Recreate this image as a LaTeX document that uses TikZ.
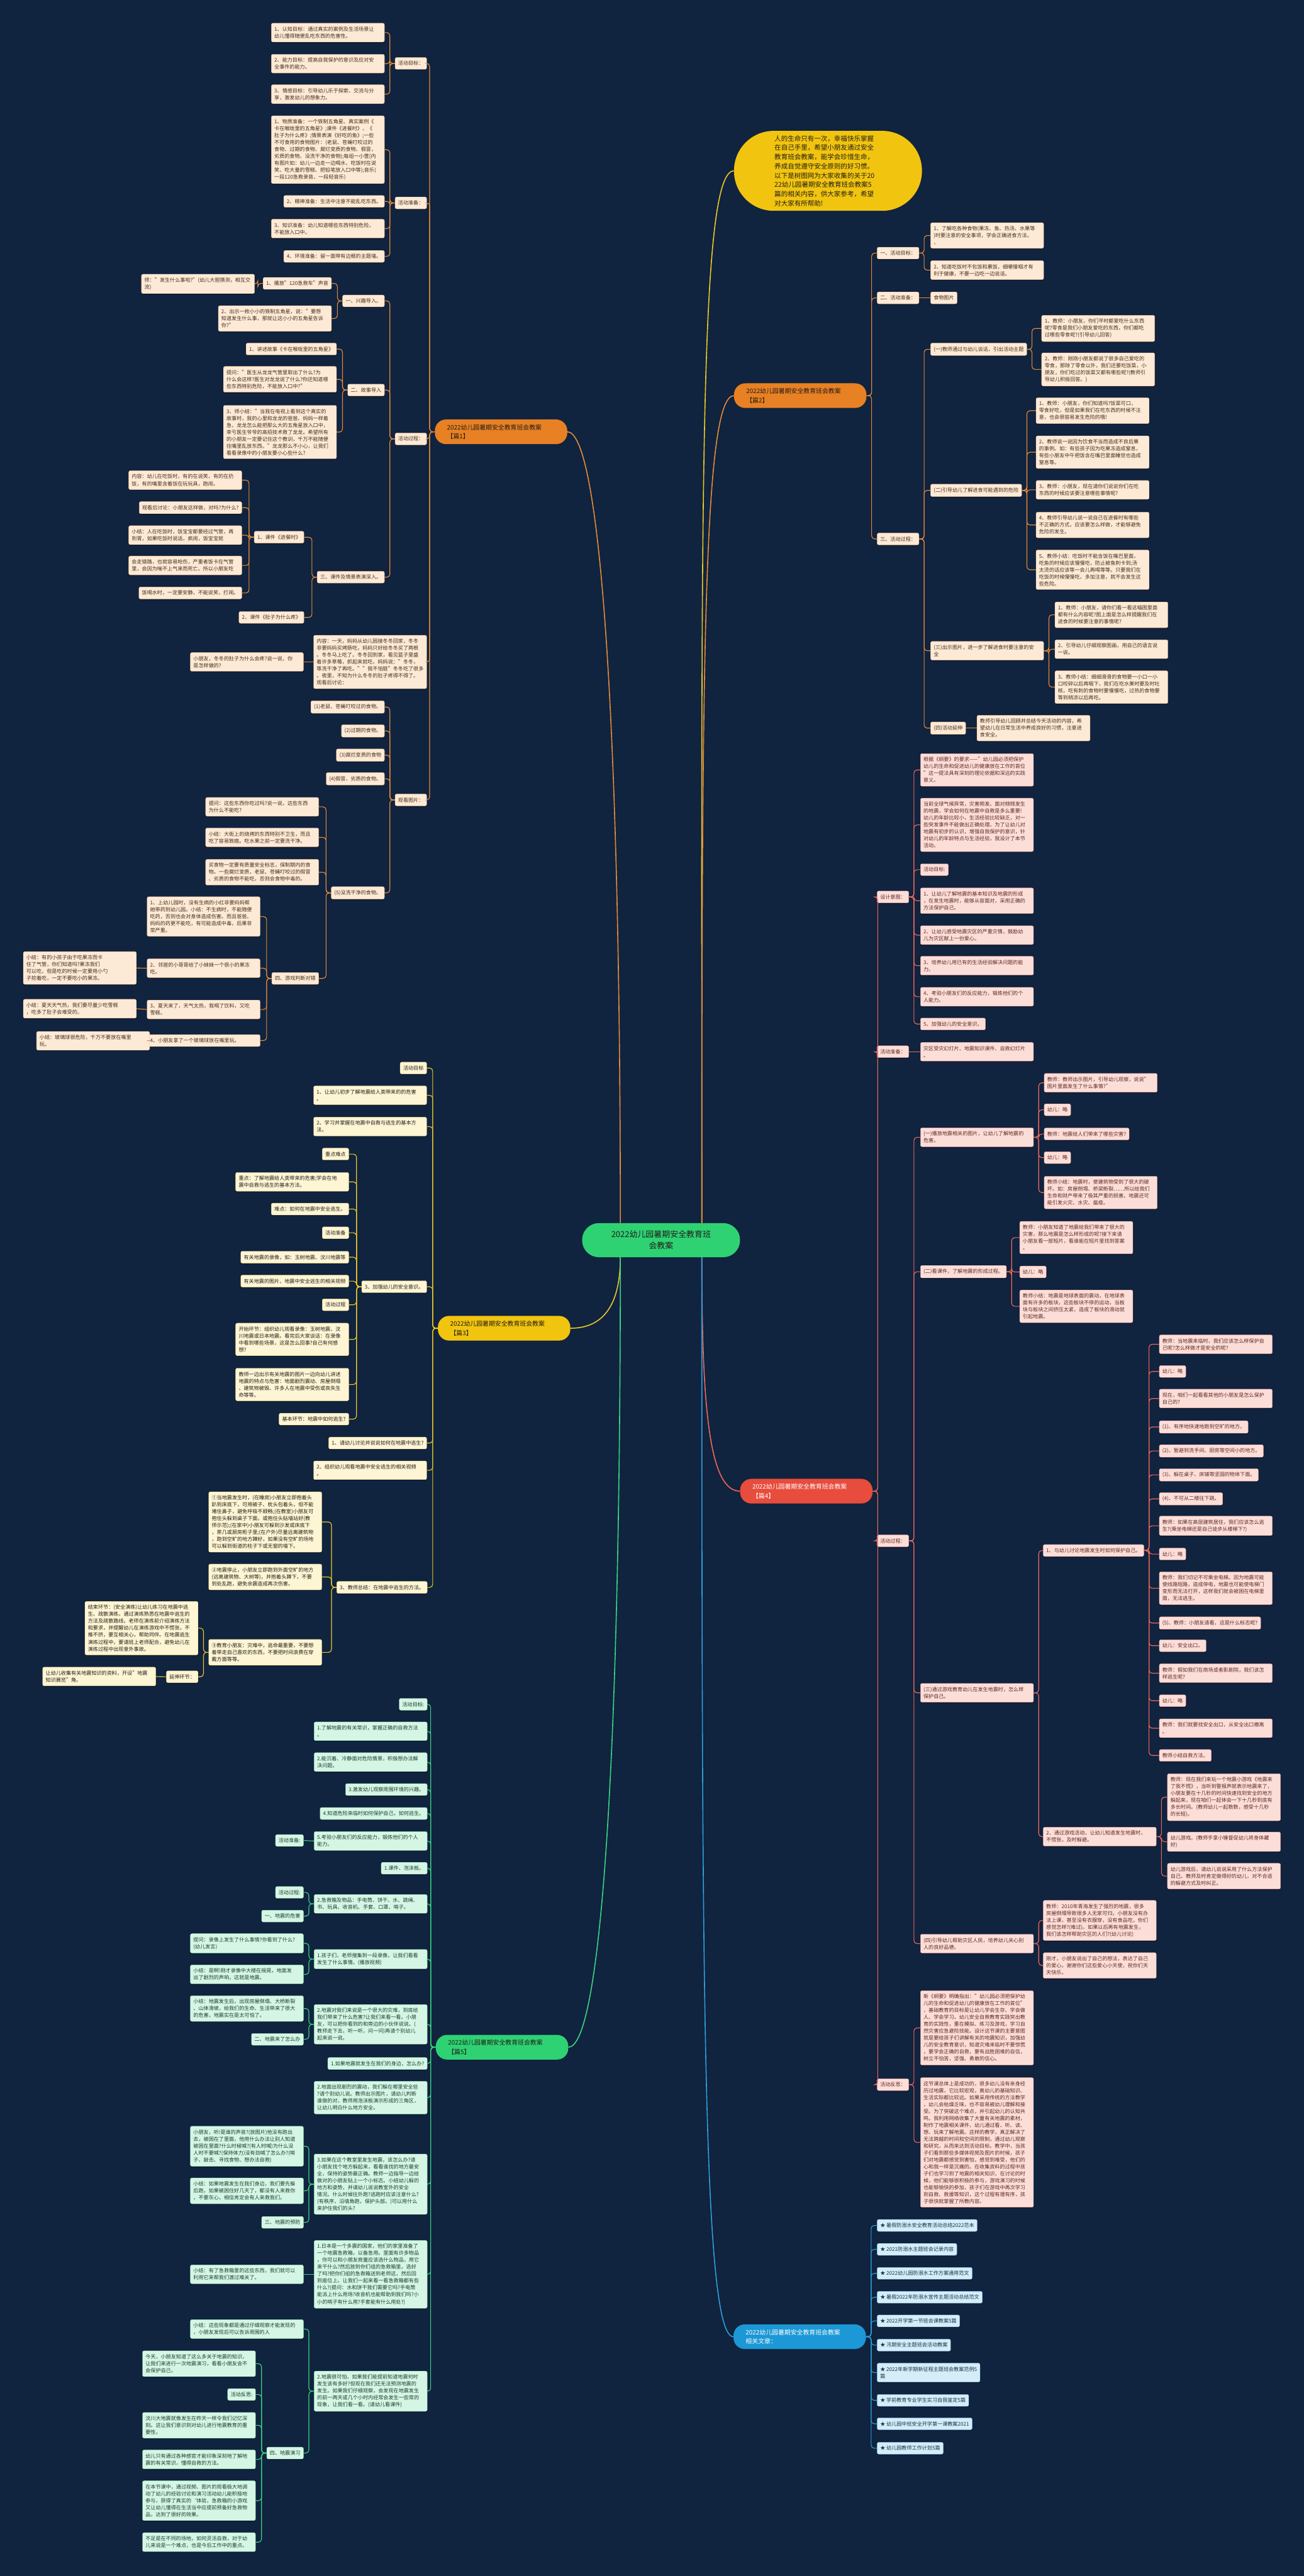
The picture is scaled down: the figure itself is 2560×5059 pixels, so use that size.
\documentclass[tikz,border=0pt]{standalone}
\usepackage{fontspec}
\setmainfont{Noto Sans CJK SC}
\usepackage{tikz}
\usetikzlibrary{calc,shadows}

\definecolor{bgnavy}{RGB}{16,35,63}
\definecolor{rootgreen}{RGB}{46,210,115}
\definecolor{sunyellow}{RGB}{241,196,15}
\definecolor{carrot}{RGB}{232,128,36}
\definecolor{tomato}{RGB}{231,76,60}
\definecolor{skyblue}{RGB}{27,152,213}
\definecolor{peach}{RGB}{252,234,214}
\definecolor{cream}{RGB}{253,245,212}
\definecolor{blush}{RGB}{252,222,217}
\definecolor{mint}{RGB}{214,246,229}
\definecolor{ice}{RGB}{212,237,249}
\definecolor{orangeline}{RGB}{228,138,56}
\definecolor{yellowline}{RGB}{233,200,40}
\definecolor{redline}{RGB}{236,104,90}
\definecolor{greenline}{RGB}{58,212,128}
\definecolor{blueline}{RGB}{45,158,216}
\definecolor{inkbrown}{RGB}{70,45,25}
\definecolor{inkdark}{RGB}{35,30,25}
\definecolor{inkred}{RGB}{95,40,32}
\definecolor{inkgreen}{RGB}{25,60,45}
\definecolor{inkblue}{RGB}{25,50,70}

\newcommand\leaffont{\fontsize{10}{13.6}\selectfont}
\newcommand\topicfont{\fontsize{12.2}{18}\selectfont}
\newcommand\introfont{\fontsize{13}{18.2}\selectfont}
\newcommand\rootfont{\fontsize{16}{22}\selectfont}

\tikzset{
	leaf/.style={rounded corners=3pt, align=left, inner xsep=6pt, inner ysep=7pt, font=\leaffont, line width=0.5pt,
		drop shadow={shadow xshift=0pt, shadow yshift=-1.6pt, fill=black, opacity=0.35}},
	wide/.style={text width=210pt},
	oleaf/.style={leaf, fill=peach, draw=orangeline!60, text=inkbrown},
	yleaf/.style={leaf, fill=cream, draw=yellowline!60, text=inkdark},
	rleaf/.style={leaf, fill=blush, draw=redline!60, text=inkred},
	gleaf/.style={leaf, fill=mint, draw=greenline!60, text=inkgreen},
	bleaf/.style={leaf, fill=ice, draw=blueline!60, text=inkblue},
	topic/.style={rounded corners=22pt, align=left, inner xsep=24pt, inner ysep=9.5pt, font=\topicfont, text width=212pt},
	olink/.style={draw=orangeline, line width=1.4pt, rounded corners=6pt},
	ylink/.style={draw=yellowline, line width=1.4pt, rounded corners=6pt},
	rlink/.style={draw=redline, line width=1.4pt, rounded corners=6pt},
	glink/.style={draw=greenline, line width=1.4pt, rounded corners=6pt},
	blink/.style={draw=blueline, line width=1.4pt, rounded corners=6pt},
	mainlink/.style={line width=2pt, rounded corners=0pt}
}

\begin{document}
\begin{tikzpicture}[x=1pt, y=-1pt]

	\fill[bgnavy] (0,0) rectangle (2560,5059);
	\useasboundingbox (0,0) rectangle (2560,5059);

	%% -- Center
	\node[fill=rootgreen, rounded corners=33pt, minimum width=310pt, minimum height=67pt,
	align=center, font=\rootfont, text=inkdark] (root) at (1298,2435.5)
	{2022幼儿园暑期安全教育班\\会教案};

	%% -- Intro
	\node[fill=sunyellow, rounded corners=78pt, minimum width=369pt, minimum height=157pt,
	text width=210pt, align=left, font=\introfont, text=inkdark, anchor=west] (intro) at (1441,335.5)
	{人的生命只有一次，幸福快乐掌握\\在自己手里，希望小朋友通过安全\\教育班会教案，能学会珍惜生命，\\养成自觉遵守安全原则的好习惯。\\以下是树图网为大家收集的关于20\\22幼儿园暑期安全教育班会教案5\\篇的相关内容，供大家参考，希望\\对大家有所帮助!};

	%% -- Topics
	\node[topic, fill=carrot, text=inkdark, anchor=east] (b1) at (1114,848) {2022幼儿园暑期安全教育班会教案\\【篇1】};
	\node[topic, fill=carrot, text=inkdark, anchor=west] (b2) at (1441,777) {2022幼儿园暑期安全教育班会教案\\【篇2】};
	\node[topic, fill=sunyellow, text=inkdark, anchor=east] (b3) at (1120,2608.5) {2022幼儿园暑期安全教育班会教案\\【篇3】};
	\node[topic, fill=tomato, text=white, anchor=west] (b4) at (1453,2928.5) {2022幼儿园暑期安全教育班会教案\\【篇4】};
	\node[topic, fill=rootgreen, text=inkdark, anchor=east] (b5) at (1116,4020.5) {2022幼儿园暑期安全教育班会教案\\【篇5】};
	\node[topic, fill=skyblue, text=white, anchor=west] (b6) at (1440,4589) {2022幼儿园暑期安全教育班会教案\\相关文章：};

	\draw[ylink, mainlink] ([xshift=80pt]root.north) .. controls +(0,-1400) and +(-70,0) .. (intro.west);
	\draw[olink, mainlink] ([xshift=80pt]root.north) .. controls +(0,-1100) and +(-60,0) .. (b2.west);
	\draw[olink, mainlink] ([xshift=-80pt]root.north) .. controls +(0,-1050) and +(60,0) .. (b1.east);
	\draw[ylink, mainlink] ([xshift=-80pt]root.south) .. controls +(0,100) and +(60,0) .. (b3.east);
	\draw[glink, mainlink] ([xshift=-80pt]root.south) .. controls +(0,1050) and +(60,0) .. (b5.east);
	\draw[rlink, mainlink] ([xshift=80pt]root.south) .. controls +(0,300) and +(-60,0) .. (b4.west);
	\draw[blink, mainlink] ([xshift=80pt]root.south) .. controls +(0,1450) and +(-60,0) .. (b6.west);

	%% -- 篇1
	\node[oleaf, anchor=east] (b1a) at (838,124.5) {活动目标：};
	\node[oleaf, wide, anchor=east] (b1a1) at (755,64) {1、认知目标：通过真实的案例及生活场景让\\幼儿懂得随便乱吃东西的危害性。};
	\node[oleaf, wide, anchor=east] (b1a2) at (755,125) {2、能力目标：提高自我保护的意识及应对安\\全事件的能力。};
	\node[oleaf, wide, anchor=east] (b1a3) at (755,185) {3、情感目标：引导幼儿乐于探索、交流与分\\享，激发幼儿的想象力。};
	\node[oleaf, anchor=east] (b1b) at (838,398.5) {活动准备：};
	\node[oleaf, wide, anchor=east] (b1b1) at (755,294) {1、物质准备：一个铁制五角星、真实案例《\\卡在喉咙里的五角星》;课件《进餐时》、《\\肚子为什么疼》;情景表演《好吃的鱼》;一些\\不可食用的食物图片：(老鼠、苍蝇叮咬过的\\食物、过期的食物、腐烂变质的食物、假冒，\\劣质的食物、没洗干净的食物);每组一小筐(内\\有图片如：幼儿一边走一边喝水、吃饭时在说\\笑、吃大量的雪糕、把铅笔放入口中等);音乐(\\一段120急救录音、一段轻音乐)};
	\node[oleaf, anchor=east] (b1b2) at (755,395.5) {2、精神准备：生活中注意不能乱吃东西。};
	\node[oleaf, wide, anchor=east] (b1b3) at (755,449) {3、知识准备：幼儿知道哪些东西特别危险，\\不能放入口中。};
	\node[oleaf, anchor=east] (b1b4) at (755,503.5) {4、环境准备：留一面带有边框的主题墙。};
	\node[oleaf, anchor=east] (b1c) at (838,862) {活动过程：};
	\node[oleaf, anchor=east] (b1c1) at (755,591) {一、兴趣导入。};
	\node[oleaf, anchor=east] (b1c1a) at (651,556.5) {1、播放"120急救车"声音};
	\node[oleaf, wide, anchor=east] (b1c1a1) at (500,557.5) {师："发生什么事啦?"(幼儿大胆猜测，相互交\\流)};
	\node[oleaf, wide, anchor=east] (b1c1b) at (651,625.5) {2、出示一枚小小的铁制五角星，说："要想\\知道发生什么事，那就让这小小的五角星告诉\\你?"};
	\node[oleaf, anchor=east] (b1c2) at (755,766) {二、故事导入};
	\node[oleaf, anchor=east] (b1c2a) at (661,685.5) {1、讲述故事《卡在喉咙里的五角星》};
	\node[oleaf, wide, anchor=east] (b1c2b) at (661,745) {提问："医生从龙龙气管里取出了什么?为\\什么会这样?医生对龙龙说了什么?你还知道哪\\些东西特别危险，不能放入口中?"};
	\node[oleaf, wide, anchor=east] (b1c2c) at (661,848.5) {3、师小结："当我在电视上看到这个真实的\\故事时，我的心里和龙龙的爸爸、妈妈一样着\\急，龙龙怎么能把那么大的五角星放入口中，\\幸亏医生爷爷的高招技术救了龙龙。希望所有\\的小朋友一定要记住这个教训，千万不能随便\\往嘴里乱放东西。"龙龙那么不小心，让我们\\看看录像中的小朋友要小心些什么?};
	\node[oleaf, anchor=east] (b1c3) at (755,1133.5) {三、课件及情景表演深入。};
	\node[oleaf, anchor=east] (b1c3a) at (597,1055) {1、课件《进餐时》};
	\node[oleaf, wide, anchor=east] (b1c3a1) at (475,943) {内容：幼儿在吃饭时，有的在说笑，有的在扔\\饭，有的嘴里含着饭在玩玩具，跑闹。};
	\node[oleaf, anchor=east] (b1c3a2) at (475,997) {观看后讨论：小朋友这样做，对吗?为什么?};
	\node[oleaf, wide, anchor=east] (b1c3a3) at (475,1051) {小结：人在吃饭时，饭宝宝都要经过气管，再\\到胃，如果吃饭时说话，疯闹，饭宝宝就};
	\node[oleaf, wide, anchor=east] (b1c3a4) at (475,1110.5) {会走错路，也就容易呛伤，严重者饭卡在气管\\里，会因为喘不上气来而死亡。所以小朋友吃};
	\node[oleaf, anchor=east] (b1c3a5) at (475,1164.5) {饭喝水时，一定要安静，不能说笑，打闹。};
	\node[oleaf, anchor=east] (b1c3b) at (597,1212.5) {2、课件《肚子为什么疼》};
	\node[oleaf, wide, anchor=east] (b1d) at (838,1300) {内容：一天，妈妈从幼儿园接冬冬回家，冬冬\\非要妈妈买烤肠吃，妈妈只好给冬冬买了两根\\。冬冬马上吃了。冬冬回到家，看见篮子里盛\\着许多草莓，抓起来就吃，妈妈说："冬冬，\\等洗干净了再吃。""我不怕脏"冬冬吃了很多\\。夜里，不知为什么冬冬的肚子疼得不得了。\\观看后讨论：};
	\node[oleaf, wide, anchor=east] (b1d1) at (596,1300) {小朋友，冬冬的肚子为什么会疼?说一说，你\\是怎样做的?};
	\node[oleaf, anchor=east] (b1e) at (838,1571) {观看图片：};
	\node[oleaf, anchor=east] (b1e1) at (755,1388.5) {(1)老鼠、苍蝇叮咬过的食物。};
	\node[oleaf, anchor=east] (b1e2) at (755,1435.5) {(2)过期的食物。};
	\node[oleaf, anchor=east] (b1e3) at (755,1483) {(3)腐烂变质的食物};
	\node[oleaf, anchor=east] (b1e4) at (755,1529.5) {(4)假冒、劣质的食物。};
	\node[oleaf, anchor=east] (b1e5) at (755,1753.5) {(5)没洗干净的食物。};
	\node[oleaf, wide, anchor=east] (b1e5a) at (626,1584.5) {提问：这些东西你吃过吗?说一说，这些东西\\为什么不能吃?};
	\node[oleaf, wide, anchor=east] (b1e5b) at (626,1644.5) {小结：大街上的烧烤的东西特别不卫生，而且\\吃了容易致癌。吃水果之前一定要洗干净。};
	\node[oleaf, wide, anchor=east] (b1e5c) at (626,1713) {买食物一定要有质量安全标志，保制期内的食\\物。一些腐烂变质，老鼠、苍蝇叮咬过的假冒\\、劣质的食物不能吃，否则会食物中毒的。};
	\node[oleaf, anchor=east] (b1e5d) at (626,1921.5) {四、游戏判断对错};
	\node[oleaf, wide, anchor=east] (b1e5d1) at (511,1800) {1、上幼儿园时，没有生病的小红非要妈妈帮\\她带药到幼儿园。小结：不生病时，不能随便\\吃药，否则也会对身体造成伤害。而且爸爸、\\妈妈的药更不能吃，有可能造成中毒，后果非\\常严重。};
	\node[oleaf, wide, anchor=east] (b1e5d2) at (511,1901.5) {2、邻居的小哥哥给了小妹妹一个很小的果冻\\吃。};
	\node[oleaf, wide, anchor=east] (b1e5d2a) at (268,1901) {小结：有的小孩子由于吃果冻而卡\\住了气管，你们知道吗?果冻我们\\可以吃，但是吃的时候一定要用小勺\\子挖着吃，一定不要吃小的果冻。};
	\node[oleaf, wide, anchor=east] (b1e5d3) at (511,1982.5) {3、夏天来了，天气太热，我喝了饮料，又吃\\雪糕。};
	\node[oleaf, wide, anchor=east] (b1e5d3a) at (268,1981) {小结：夏天天气热，我们要尽量少吃雪糕\\，吃多了肚子会难受的。};
	\node[oleaf, wide, anchor=east] (b1e5d4) at (511,2043.5) {4、小朋友拿了一个玻璃球放在嘴里玩。};
	\node[oleaf, wide, anchor=east] (b1e5d4a) at (294,2044) {小结：玻璃球很危险，千万不要放在嘴里\\玩。};

	\draw[olink] (b1.west) -- ++(-10,0) |- (b1a.east);
	\draw[olink] (b1.west) -- ++(-10,0) |- (b1b.east);
	\draw[olink] (b1.west) -- ++(-10,0) |- (b1c.east);
	\draw[olink] (b1.west) -- ++(-10,0) |- (b1d.east);
	\draw[olink] (b1.west) -- ++(-10,0) |- (b1e.east);
	\draw[olink] (b1a.west) -- ++(-10,0) |- (b1a1.east);
	\draw[olink] (b1a.west) -- ++(-10,0) |- (b1a2.east);
	\draw[olink] (b1a.west) -- ++(-10,0) |- (b1a3.east);
	\draw[olink] (b1b.west) -- ++(-10,0) |- (b1b1.east);
	\draw[olink] (b1b.west) -- ++(-10,0) |- (b1b2.east);
	\draw[olink] (b1b.west) -- ++(-10,0) |- (b1b3.east);
	\draw[olink] (b1b.west) -- ++(-10,0) |- (b1b4.east);
	\draw[olink] (b1c.west) -- ++(-10,0) |- (b1c1.east);
	\draw[olink] (b1c.west) -- ++(-10,0) |- (b1c2.east);
	\draw[olink] (b1c.west) -- ++(-10,0) |- (b1c3.east);
	\draw[olink] (b1c1.west) -- ++(-10,0) |- (b1c1a.east);
	\draw[olink] (b1c1.west) -- ++(-10,0) |- (b1c1b.east);
	\draw[olink] (b1c1a.west) -- ++(-10,0) |- (b1c1a1.east);
	\draw[olink] (b1c2.west) -- ++(-10,0) |- (b1c2a.east);
	\draw[olink] (b1c2.west) -- ++(-10,0) |- (b1c2b.east);
	\draw[olink] (b1c2.west) -- ++(-10,0) |- (b1c2c.east);
	\draw[olink] (b1c3.west) -- ++(-10,0) |- (b1c3a.east);
	\draw[olink] (b1c3.west) -- ++(-10,0) |- (b1c3b.east);
	\draw[olink] (b1c3a.west) -- ++(-10,0) |- (b1c3a1.east);
	\draw[olink] (b1c3a.west) -- ++(-10,0) |- (b1c3a2.east);
	\draw[olink] (b1c3a.west) -- ++(-10,0) |- (b1c3a3.east);
	\draw[olink] (b1c3a.west) -- ++(-10,0) |- (b1c3a4.east);
	\draw[olink] (b1c3a.west) -- ++(-10,0) |- (b1c3a5.east);
	\draw[olink] (b1d.west) -- (b1d1.east);
	\draw[olink] (b1e.west) -- ++(-10,0) |- (b1e1.east);
	\draw[olink] (b1e.west) -- ++(-10,0) |- (b1e2.east);
	\draw[olink] (b1e.west) -- ++(-10,0) |- (b1e3.east);
	\draw[olink] (b1e.west) -- ++(-10,0) |- (b1e4.east);
	\draw[olink] (b1e.west) -- ++(-10,0) |- (b1e5.east);
	\draw[olink] (b1e5.west) -- ++(-10,0) |- (b1e5a.east);
	\draw[olink] (b1e5.west) -- ++(-10,0) |- (b1e5b.east);
	\draw[olink] (b1e5.west) -- ++(-10,0) |- (b1e5c.east);
	\draw[olink] (b1e5.west) -- ++(-10,0) |- (b1e5d.east);
	\draw[olink] (b1e5d.west) -- ++(-10,0) |- (b1e5d1.east);
	\draw[olink] (b1e5d.west) -- ++(-10,0) |- (b1e5d2.east);
	\draw[olink] (b1e5d.west) -- ++(-10,0) |- (b1e5d3.east);
	\draw[olink] (b1e5d.west) -- ++(-10,0) |- (b1e5d4.east);
	\draw[olink] (b1e5d2.west) -- (b1e5d2a.east);
	\draw[olink] (b1e5d3.west) -- (b1e5d3a.east);
	\draw[olink] (b1e5d4.west) -- (b1e5d4a.east);

	%% -- 篇2
	\node[oleaf, anchor=west] (b2a) at (1722,497) {一、活动目标：};
	\node[oleaf, wide, anchor=west] (b2a1) at (1827,462.5) {1、了解吃各种食物(果冻、鱼、热汤、水果等\\)时要注意的安全事项，学会正确进食方法。\\、};
	\node[oleaf, wide, anchor=west] (b2a2) at (1827,530.5) {2、知道吃饭时不包饭和裹饭，细嚼慢咽才有\\利于健康，不要一边吃一边说话。};
	\node[oleaf, anchor=west] (b2b) at (1722,585) {二、活动准备：};
	\node[oleaf, anchor=west] (b2b1) at (1827,585) {食物图片};
	\node[oleaf, anchor=west] (b2c) at (1722,1058.5) {三、活动过程：};
	\node[oleaf, anchor=west] (b2c1) at (1827,686) {(一)教师通过与幼儿谈话，引出活动主题};
	\node[oleaf, wide, anchor=west] (b2c1a) at (2045,645) {1、教师：小朋友，你们平时都爱吃什么东西\\呢?零食是我们小朋友爱吃的东西，你们都吃\\过哪些零食呢?(引导幼儿回答)};
	\node[oleaf, wide, anchor=west] (b2c1b) at (2045,725.5) {2、教师：刚刚小朋友都说了很多自己爱吃的\\零食，那除了零食以外，我们还要吃饭菜，小\\朋友，你们吃过的饭菜又都有哪些呢?(教师引\\导幼儿积极回答。)};
	\node[oleaf, anchor=west] (b2c2) at (1827,963) {(二)引导幼儿了解进食可能遇到的危险};
	\node[oleaf, wide, anchor=west] (b2c2a) at (2034,806.5) {1、教师：小朋友，你们知道吗?饭菜可口，\\零食好吃，但是如果我们在吃东西的时候不注\\意，也会很容易发生危险的哦!};
	\node[oleaf, wide, anchor=west] (b2c2b) at (2034,888) {2、教师说一说因为饮食不当而造成不良后果\\的事例。如：有些孩子因为吃果冻造成窒息，\\有些小朋友中午把饭含在嘴巴里面睡觉也造成\\窒息等。};
	\node[oleaf, wide, anchor=west] (b2c2c) at (2034,962) {3、教师：小朋友，现在请你们说说你们在吃\\东西的时候应该要注意哪些事情呢?};
	\node[oleaf, wide, anchor=west] (b2c2d) at (2034,1031) {4、教师引导幼儿说一说自己在进餐时有哪些\\不正确的方式，应该要怎么样做，才能够避免\\危险的发生。};
	\node[oleaf, wide, anchor=west] (b2c2e) at (2034,1119) {5、教师小结：吃饭时不能含饭在嘴巴里面，\\吃鱼的时候应该慢慢吃，防止被鱼刺卡到;汤\\太烫的话应该等一会儿再喝等等。只要我们在\\吃饭的时候慢慢吃，多加注意，就不会发生这\\些危险。};
	\node[oleaf, wide, anchor=west] (b2c3) at (1827,1278) {(三)出示图片，进一步了解进食时要注意的安\\全};
	\node[oleaf, wide, anchor=west] (b2c3a) at (2071,1207.5) {1、教师：小朋友，请你们看一看这幅图里面\\都有什么内容呢?图上面是怎么样提醒我们在\\进食的时候要注意的事情呢?};
	\node[oleaf, wide, anchor=west] (b2c3b) at (2071,1275) {2、引导幼儿仔细观察图画，用自己的语言说\\一说。};
	\node[oleaf, wide, anchor=west] (b2c3c) at (2071,1349.5) {3、教师小结：细细滑滑的食物要一小口一小\\口咬碎以后再咽下，我们在吃水果时要及时吐\\核，吃有刺的食物时要慢慢吃，过热的食物要\\等到稍凉以后再吃。};
	\node[oleaf, anchor=west] (b2c4) at (1827,1430) {(四)活动延伸};
	\node[oleaf, wide, anchor=west] (b2c4a) at (1918,1430) {教师引导幼儿回顾并总结今天活动的内容，希\\望幼儿在日常生活中养成良好的习惯，注意进\\食安全。};

	\draw[olink] (b2.east) -- ++(10,0) |- (b2a.west);
	\draw[olink] (b2.east) -- ++(10,0) |- (b2b.west);
	\draw[olink] (b2.east) -- ++(10,0) |- (b2c.west);
	\draw[olink] (b2a.east) -- ++(10,0) |- (b2a1.west);
	\draw[olink] (b2a.east) -- ++(10,0) |- (b2a2.west);
	\draw[olink] (b2b.east) -- (b2b1.west);
	\draw[olink] (b2c.east) -- ++(10,0) |- (b2c1.west);
	\draw[olink] (b2c.east) -- ++(10,0) |- (b2c2.west);
	\draw[olink] (b2c.east) -- ++(10,0) |- (b2c3.west);
	\draw[olink] (b2c.east) -- ++(10,0) |- (b2c4.west);
	\draw[olink] (b2c1.east) -- ++(10,0) |- (b2c1a.west);
	\draw[olink] (b2c1.east) -- ++(10,0) |- (b2c1b.west);
	\draw[olink] (b2c2.east) -- ++(10,0) |- (b2c2a.west);
	\draw[olink] (b2c2.east) -- ++(10,0) |- (b2c2b.west);
	\draw[olink] (b2c2.east) -- ++(10,0) |- (b2c2c.west);
	\draw[olink] (b2c2.east) -- ++(10,0) |- (b2c2d.west);
	\draw[olink] (b2c2.east) -- ++(10,0) |- (b2c2e.west);
	\draw[olink] (b2c3.east) -- ++(10,0) |- (b2c3a.west);
	\draw[olink] (b2c3.east) -- ++(10,0) |- (b2c3b.west);
	\draw[olink] (b2c3.east) -- ++(10,0) |- (b2c3c.west);
	\draw[olink] (b2c4.east) -- (b2c4a.west);

	%% -- 篇3
	\node[yleaf, anchor=east] (b3a) at (838,2097.5) {活动目标};
	\node[yleaf, wide, anchor=east] (b3b) at (838,2151) {1、让幼儿初步了解地震给人类带来的的危害\\。};
	\node[yleaf, wide, anchor=east] (b3c) at (838,2212.5) {2、学习并掌握在地震中自救与逃生的基本方\\法。};
	\node[yleaf, anchor=east] (b3d) at (838,2527) {3、加强幼儿的安全意识。};
	\node[yleaf, anchor=east] (b3d1) at (685,2266.5) {重点难点};
	\node[yleaf, wide, anchor=east] (b3d2) at (685,2321) {重点：了解地震给人类带来的危害;学会在地\\震中自救与逃生的基本方法。};
	\node[yleaf, anchor=east] (b3d3) at (685,2374.5) {难点：如何在地震中安全逃生。};
	\node[yleaf, anchor=east] (b3d4) at (685,2421) {活动准备};
	\node[yleaf, anchor=east] (b3d5) at (685,2469) {有关地震的录像，如：玉树地震、汶川地震等};
	\node[yleaf, anchor=east] (b3d6) at (685,2516) {有关地震的图片、地震中安全逃生的相关视频};
	\node[yleaf, anchor=east] (b3d7) at (685,2562.5) {活动过程};
	\node[yleaf, wide, anchor=east] (b3d8) at (685,2630.5) {开始环节：组织幼儿观看录像：玉树地震、汶\\川地震或日本地震。看完后大家谈话：在录像\\中看到哪些场景，这是怎么回事?自己有何感\\想?};
	\node[yleaf, wide, anchor=east] (b3d9) at (685,2719) {教师一边出示有关地震的图片一边向幼儿讲述\\地震的特点与危害：地面剧烈震动、房屋倒塌\\、建筑物被毁、许多人在地震中受伤或丧失生\\命等等。};
	\node[yleaf, anchor=east] (b3d10) at (685,2787) {基本环节：地震中如何逃生?};
	\node[yleaf, anchor=east] (b3e) at (838,2834) {1、请幼儿讨论并说说如何在地震中逃生?};
	\node[yleaf, wide, anchor=east] (b3f) at (838,2887.5) {2、组织幼儿观看地震中安全逃生的相关视频\\。};
	\node[yleaf, anchor=east] (b3g) at (839,3117.5) {3、教师总结：在地震中逃生的方法。};
	\node[yleaf, wide, anchor=east] (b3g1) at (632,2989) {①当地震发生时，(在睡房)小朋友立即抱着头\\趴到床底下，可用被子、枕头包着头，但不能\\堵住鼻子，避免呼吸不顺畅;(在教室)小朋友可\\抱住头躲到桌子下面，或抱住头贴墙站好(教\\师示范);(在家中)小朋友可躲到沙发或床底下\\，茶几或厨房柜子里;(在户外)尽量远离建筑物\\，跑到空旷的地方蹲好，如果没有空旷的场地\\可以躲到街道的柱子下或无窗的墙下。};
	\node[yleaf, wide, anchor=east] (b3g2) at (632,3097) {②地震停止，小朋友立即跑到外面空旷的地方\\(远离建筑物、大树等)，并抱着头蹲下，不要\\到处乱跑，避免余震造成再次伤害。};
	\node[yleaf, wide, anchor=east] (b3g3) at (632,3245) {③教育小朋友：灾难中，逃命最重要，不要想\\着带走自己喜欢的东西，不要把时间浪费在穿\\戴方面等等。};
	\node[yleaf, wide, anchor=east] (b3g3a) at (389,3197.5) {结束环节：(安全演练)让幼儿练习在地震中逃\\生、疏散演练，通过演练熟悉在地震中逃生的\\方法及疏散路线。老师在演练前介绍演练方法\\和要求，并提醒幼儿在演练游戏中不慌张，不\\推不挤，要互相关心，帮助同伴。在地震逃生\\演练过程中，要请班上老师配合，避免幼儿在\\演练过程中出现意外事故。};
	\node[yleaf, anchor=east] (b3g3b) at (389,3293) {延伸环节：};
	\node[yleaf, wide, anchor=east] (b3g3b1) at (306,3292.5) {让幼儿收集有关地震知识的资料，开设"地震\\知识展览"角。};

	\draw[ylink] (b3.west) -- ++(-10,0) |- (b3a.east);
	\draw[ylink] (b3.west) -- ++(-10,0) |- (b3b.east);
	\draw[ylink] (b3.west) -- ++(-10,0) |- (b3c.east);
	\draw[ylink] (b3.west) -- ++(-10,0) |- (b3d.east);
	\draw[ylink] (b3.west) -- ++(-10,0) |- (b3e.east);
	\draw[ylink] (b3.west) -- ++(-10,0) |- (b3f.east);
	\draw[ylink] (b3.west) -- ++(-10,0) |- (b3g.east);
	\draw[ylink] (b3d.west) -- ++(-10,0) |- (b3d1.east);
	\draw[ylink] (b3d.west) -- ++(-10,0) |- (b3d2.east);
	\draw[ylink] (b3d.west) -- ++(-10,0) |- (b3d3.east);
	\draw[ylink] (b3d.west) -- ++(-10,0) |- (b3d4.east);
	\draw[ylink] (b3d.west) -- ++(-10,0) |- (b3d5.east);
	\draw[ylink] (b3d.west) -- ++(-10,0) |- (b3d6.east);
	\draw[ylink] (b3d.west) -- ++(-10,0) |- (b3d7.east);
	\draw[ylink] (b3d.west) -- ++(-10,0) |- (b3d8.east);
	\draw[ylink] (b3d.west) -- ++(-10,0) |- (b3d9.east);
	\draw[ylink] (b3d.west) -- ++(-10,0) |- (b3d10.east);
	\draw[ylink] (b3g.west) -- ++(-10,0) |- (b3g1.east);
	\draw[ylink] (b3g.west) -- ++(-10,0) |- (b3g2.east);
	\draw[ylink] (b3g.west) -- ++(-10,0) |- (b3g3.east);
	\draw[ylink] (b3g3.west) -- ++(-10,0) |- (b3g3a.east);
	\draw[ylink] (b3g3.west) -- ++(-10,0) |- (b3g3b.east);
	\draw[ylink] (b3g3b.west) -- (b3g3b1.east);

	%% -- 篇4
	\node[rleaf, anchor=west] (b4a) at (1722,1761.5) {设计意图：};
	\node[rleaf, wide, anchor=west] (b4a1) at (1807,1512) {根据《纲要》的要求——"幼儿园必须把保护\\幼儿的生命和促进幼儿的健康放在工作的首位\\"这一提法具有深刻的理论依据和深远的实践\\意义。};
	\node[rleaf, wide, anchor=west] (b4a2) at (1807,1620) {当前全球气候异常，灾害频发。面对频频发生\\的地震，学会如何在地震中自救是多么重要!\\幼儿的年龄比较小，生活经验比较缺乏，对一\\些突发事件不能做出正确处理。为了让幼儿对\\地震有初步的认识，增强自我保护的意识，针\\对幼儿的年龄特点与生活经验，我设计了本节\\活动。};
	\node[rleaf, anchor=west] (b4a3) at (1807,1708) {活动目标:};
	\node[rleaf, wide, anchor=west] (b4a4) at (1807,1769) {1、让幼儿了解地震的基本知识及地震的形成\\，在发生地震时，能够从容面对，采用正确的\\方法保护自己。};
	\node[rleaf, wide, anchor=west] (b4a5) at (1807,1836.5) {2、让幼儿感受地震灾区的严重灾情，鼓励幼\\儿为灾区献上一份爱心。};
	\node[rleaf, wide, anchor=west] (b4a6) at (1807,1896.5) {3、培养幼儿用已有的生活经验解决问题的能\\力。};
	\node[rleaf, wide, anchor=west] (b4a7) at (1807,1957.5) {4、考验小朋友们的反应能力，锻炼他们的个\\人能力。};
	\node[rleaf, anchor=west] (b4a8) at (1807,2011) {5、加强幼儿的安全意识。};
	\node[rleaf, anchor=west] (b4b) at (1722,2065.5) {活动准备：};
	\node[rleaf, wide, anchor=west] (b4b1) at (1807,2065.5) {灾区受灾幻灯片、地震知识课件、自救幻灯片\\。};
	\node[rleaf, anchor=west] (b4c) at (1722,3026) {活动过程：};
	\node[rleaf, wide, anchor=west] (b4c1) at (1807,2233.5) {(一)播放地震相关的图片，让幼儿了解地震的\\危害。};
	\node[rleaf, wide, anchor=west] (b4c1a) at (2050,2126.5) {教师：教师出示图片，引导幼儿观察，说说"\\图片里面发生了什么事情?"};
	\node[rleaf, anchor=west] (b4c1b) at (2050,2179.5) {幼儿：略};
	\node[rleaf, anchor=west] (b4c1c) at (2050,2227) {教师：地震给人们带来了哪些灾害?};
	\node[rleaf, anchor=west] (b4c1d) at (2050,2273.5) {幼儿：略};
	\node[rleaf, wide, anchor=west] (b4c1e) at (2050,2342) {教师小结：地震时，使建筑物受到了很大的破\\坏。如：房屋倒塌、桥梁断裂……所以给我们\\生命和财产带来了极其严重的损害。地震还可\\能引发火灾、水灾、瘟疫。};
	\node[rleaf, anchor=west] (b4c2) at (1807,2497.5) {(二)看课件，了解地震的形成过程。};
	\node[rleaf, wide, anchor=west] (b4c2a) at (2002,2430.5) {教师：小朋友知道了地震给我们带来了很大的\\灾害，那么地震是怎么样形成的呢?接下来请\\小朋友看一部短片，看谁能在短片里找到答案\\。};
	\node[rleaf, anchor=west] (b4c2b) at (2002,2498) {幼儿：略};
	\node[rleaf, wide, anchor=west] (b4c2c) at (2002,2565.5) {教师小结：地震是地球表面的震动，在地球表\\面有许多的板块，这些板块不停的运动，当板\\块与板块之间挤压太紧，造成了板块的滑动就\\引起地震。};
	\node[rleaf, wide, anchor=west] (b4c3) at (1807,3324.5) {(三)通过游戏教育幼儿在发生地震时，怎么样\\保护自己。};
	\node[rleaf, anchor=west] (b4c3a) at (2048,3045) {1、与幼儿讨论地震发生时如何保护自己。};
	\node[rleaf, wide, anchor=west] (b4c3a1) at (2276,2640) {教师：当地震来临时，我们应该怎么样保护自\\己呢?怎么样做才是安全的呢?};
	\node[rleaf, anchor=west] (b4c3a2) at (2276,2693.5) {幼儿：略};
	\node[rleaf, wide, anchor=west] (b4c3a3) at (2276,2746.5) {现在，咱们一起看看其他的小朋友是怎么保护\\自己的?};
	\node[rleaf, anchor=west] (b4c3a4) at (2276,2802.5) {(1)、有序地快速地跑到空旷的地方。};
	\node[rleaf, anchor=west] (b4c3a5) at (2276,2849.5) {(2)、暂避到洗手间、厨房等空间小的地方。};
	\node[rleaf, anchor=west] (b4c3a6) at (2276,2896.5) {(3)、躲在桌子、床铺等坚固的物体下面。};
	\node[rleaf, anchor=west] (b4c3a7) at (2276,2943.5) {(4)、不可从二楼往下跳。};
	\node[rleaf, wide, anchor=west] (b4c3a8) at (2276,2996.5) {教师：如果在高层建筑居住，我们应该怎么逃\\生?(乘坐电梯还是自己徒步从楼梯下?)};
	\node[rleaf, anchor=west] (b4c3a9) at (2276,3052) {幼儿：略};
	\node[rleaf, wide, anchor=west] (b4c3a10) at (2276,3119) {教师：我们切记不可乘坐电梯。因为地震可能\\使线路短路，造成停电，地震也可能使电梯门\\变形而无法打开，这样我们就会被困在电梯里\\面，无法逃生。};
	\node[rleaf, anchor=west] (b4c3a11) at (2276,3187.5) {(5)、教师：小朋友请看，这是什么标志呢?};
	\node[rleaf, anchor=west] (b4c3a12) at (2276,3232) {幼儿：安全出口。};
	\node[rleaf, wide, anchor=west] (b4c3a13) at (2276,3286) {教师：假如我们在商场或者影剧院，我们该怎\\样逃生呢?};
	\node[rleaf, anchor=west] (b4c3a14) at (2276,3340) {幼儿：略};
	\node[rleaf, wide, anchor=west] (b4c3a15) at (2276,3394) {教师：我们就要找安全出口，从安全出口撤离\\。};
	\node[rleaf, anchor=west] (b4c3a16) at (2276,3447.5) {教师小结自救方法。};
	\node[rleaf, wide, anchor=west] (b4c3b) at (2048,3607) {2、通过游戏活动，让幼儿知道发生地震时，\\不慌张，及时躲避。};
	\node[rleaf, wide, anchor=west] (b4c3b1) at (2292,3529.5) {教师：现在我们来玩一个地震小游戏《地震来\\了我不慌》，当听到警报声就表示地震来了，\\小朋友要在十几秒的时间快速找到安全的地方\\躲起来，现在咱们一起体会一下十几秒到底有\\多长时间。(教师幼儿一起数数，感受十几秒\\的长短)。};
	\node[rleaf, wide, anchor=west] (b4c3b2) at (2292,3617) {幼儿游戏。(教师手拿小锤督促幼儿将身体藏\\好)};
	\node[rleaf, wide, anchor=west] (b4c3b3) at (2292,3684.5) {幼儿游戏后，请幼儿说说采用了什么方法保护\\自己。教师及时肯定做得好的幼儿，对不合适\\的躲避方式及时纠正。};
	\node[rleaf, wide, anchor=west] (b4c4) at (1807,3817) {(四)引导幼儿帮助灾区人民，培养幼儿关心别\\人的良好品德。};
	\node[rleaf, wide, anchor=west] (b4c4a) at (2048,3771.5) {教师：2010年青海发生了强烈的地震，很多\\房屋倒塌导致很多人无家可归，小朋友没有办\\法上课，甚至没有衣服穿，没有食品吃，你们\\感觉怎样?(难过)。如果以后再有地震发生，\\我们该怎样帮助灾区的人们?(幼儿讨论)};
	\node[rleaf, wide, anchor=west] (b4c4b) at (2048,3860) {刚才，小朋友说出了自己的想法，表达了自己\\的爱心。谢谢你们这些爱心小天使，祝你们天\\天快乐。};
	\node[rleaf, anchor=west] (b4d) at (1722,4094) {活动反思：};
	\node[rleaf, wide, anchor=west] (b4d1) at (1807,3982.5) {新《纲要》明确指出："幼儿园必须把保护幼\\儿的生命和促进幼儿的健康放在工作的首位"\\，基础教育的目标是让幼儿学会生存、学会做\\人、学会学习。幼儿安全自救教育实践突出教\\育的实践性，重在模拟、练习及游戏，学习自\\然灾害应急避险技能。设计这节课的主要意图\\就是要给孩子们讲解有关的地震知识，加强幼\\儿的安全教育意识，知道灾难来临时不要惊慌\\，要学会正确的自救，要有战胜困难的自信，\\树立不怕苦，坚强、勇敢的信心。};
	\node[rleaf, wide, anchor=west] (b4d2) at (1807,4207.5) {这节课总体上是成功的，很多幼儿没有亲身经\\历过地震，它比较宏观，离幼儿的基础知识、\\生活实际都比较远。如果采用传统的方法教学\\，幼儿会枯燥乏味，也不容易被幼儿理解和接\\受。为了突破这个难点，并引起幼儿的认知共\\鸣，我利用网络收集了大量有关地震的素材，\\制作了地震相关课件，幼儿通过看、听、读、\\想、玩来了解地震。这样的教学，真正解决了\\无法跨越的时间和空间的限制，通过幼儿观察\\和研究，从而来达到活动目标。教学中，当孩\\子们看到那些多媒体视频及图片的时候，孩子\\们对地震都感觉到害怕，感觉到难受，他们的\\心和我一样是沉痛的。在收集资料的过程中孩\\子们也学习到了地震的相关知识，在讨论的时\\候，他们能够很积极的参与，游戏演习的时候\\也能够愉快的参加，孩子们在游戏中再次学习\\到自救、救援等知识，这个过程有理有序，孩\\子很快就掌握了所教内容。};

	\draw[rlink] (b4.east) -- ++(10,0) |- (b4a.west);
	\draw[rlink] (b4.east) -- ++(10,0) |- (b4b.west);
	\draw[rlink] (b4.east) -- ++(10,0) |- (b4c.west);
	\draw[rlink] (b4.east) -- ++(10,0) |- (b4d.west);
	\draw[rlink] (b4a.east) -- ++(10,0) |- (b4a1.west);
	\draw[rlink] (b4a.east) -- ++(10,0) |- (b4a2.west);
	\draw[rlink] (b4a.east) -- ++(10,0) |- (b4a3.west);
	\draw[rlink] (b4a.east) -- ++(10,0) |- (b4a4.west);
	\draw[rlink] (b4a.east) -- ++(10,0) |- (b4a5.west);
	\draw[rlink] (b4a.east) -- ++(10,0) |- (b4a6.west);
	\draw[rlink] (b4a.east) -- ++(10,0) |- (b4a7.west);
	\draw[rlink] (b4a.east) -- ++(10,0) |- (b4a8.west);
	\draw[rlink] (b4b.east) -- (b4b1.west);
	\draw[rlink] (b4c.east) -- ++(10,0) |- (b4c1.west);
	\draw[rlink] (b4c.east) -- ++(10,0) |- (b4c2.west);
	\draw[rlink] (b4c.east) -- ++(10,0) |- (b4c3.west);
	\draw[rlink] (b4c.east) -- ++(10,0) |- (b4c4.west);
	\draw[rlink] (b4c1.east) -- ++(10,0) |- (b4c1a.west);
	\draw[rlink] (b4c1.east) -- ++(10,0) |- (b4c1b.west);
	\draw[rlink] (b4c1.east) -- ++(10,0) |- (b4c1c.west);
	\draw[rlink] (b4c1.east) -- ++(10,0) |- (b4c1d.west);
	\draw[rlink] (b4c1.east) -- ++(10,0) |- (b4c1e.west);
	\draw[rlink] (b4c2.east) -- ++(10,0) |- (b4c2a.west);
	\draw[rlink] (b4c2.east) -- ++(10,0) |- (b4c2b.west);
	\draw[rlink] (b4c2.east) -- ++(10,0) |- (b4c2c.west);
	\draw[rlink] (b4c3.east) -- ++(10,0) |- (b4c3a.west);
	\draw[rlink] (b4c3.east) -- ++(10,0) |- (b4c3b.west);
	\draw[rlink] (b4c3a.east) -- ++(10,0) |- (b4c3a1.west);
	\draw[rlink] (b4c3a.east) -- ++(10,0) |- (b4c3a2.west);
	\draw[rlink] (b4c3a.east) -- ++(10,0) |- (b4c3a3.west);
	\draw[rlink] (b4c3a.east) -- ++(10,0) |- (b4c3a4.west);
	\draw[rlink] (b4c3a.east) -- ++(10,0) |- (b4c3a5.west);
	\draw[rlink] (b4c3a.east) -- ++(10,0) |- (b4c3a6.west);
	\draw[rlink] (b4c3a.east) -- ++(10,0) |- (b4c3a7.west);
	\draw[rlink] (b4c3a.east) -- ++(10,0) |- (b4c3a8.west);
	\draw[rlink] (b4c3a.east) -- ++(10,0) |- (b4c3a9.west);
	\draw[rlink] (b4c3a.east) -- ++(10,0) |- (b4c3a10.west);
	\draw[rlink] (b4c3a.east) -- ++(10,0) |- (b4c3a11.west);
	\draw[rlink] (b4c3a.east) -- ++(10,0) |- (b4c3a12.west);
	\draw[rlink] (b4c3a.east) -- ++(10,0) |- (b4c3a13.west);
	\draw[rlink] (b4c3a.east) -- ++(10,0) |- (b4c3a14.west);
	\draw[rlink] (b4c3a.east) -- ++(10,0) |- (b4c3a15.west);
	\draw[rlink] (b4c3a.east) -- ++(10,0) |- (b4c3a16.west);
	\draw[rlink] (b4c3b.east) -- ++(10,0) |- (b4c3b1.west);
	\draw[rlink] (b4c3b.east) -- ++(10,0) |- (b4c3b2.west);
	\draw[rlink] (b4c3b.east) -- ++(10,0) |- (b4c3b3.west);
	\draw[rlink] (b4c4.east) -- ++(10,0) |- (b4c4a.west);
	\draw[rlink] (b4c4.east) -- ++(10,0) |- (b4c4b.west);
	\draw[rlink] (b4d.east) -- ++(10,0) |- (b4d1.west);
	\draw[rlink] (b4d.east) -- ++(10,0) |- (b4d2.west);

	%% -- 篇5
	\node[gleaf, anchor=east] (b5a) at (839,3347) {活动目标:};
	\node[gleaf, wide, anchor=east] (b5b) at (839,3400) {1.了解地震的有关常识，掌握正确的自救方法\\。};
	\node[gleaf, wide, anchor=east] (b5c) at (839,3460.5) {2.能沉着、冷静面对危险情景，积极想办法解\\决问题。};
	\node[gleaf, anchor=east] (b5d) at (839,3514.5) {3.激发幼儿观察周围环境的兴趣。};
	\node[gleaf, anchor=east] (b5e) at (839,3561.5) {4.知道危险来临时如何保护自己，如何逃生。};
	\node[gleaf, wide, anchor=east] (b5f) at (839,3615.5) {5.考验小朋友们的反应能力，锻炼他们的个人\\能力。};
	\node[gleaf, anchor=east] (b5f1) at (596,3614.5) {活动准备:};
	\node[gleaf, anchor=east] (b5g) at (839,3669) {1.课件、泡沫板。};
	\node[gleaf, wide, anchor=east] (b5h) at (839,3739) {2.急救箱及物品：手电筒、饼干、水、跳绳、\\书、玩具、收音机、手套、口罩、哨子。};
	\node[gleaf, anchor=east] (b5h1) at (596,3716.5) {活动过程:};
	\node[gleaf, anchor=east] (b5h2) at (596,3763) {一、地震的危害};
	\node[gleaf, wide, anchor=east] (b5i) at (839,3847.5) {1.孩子们，老师搜集到一段录像，让我们看看\\发生了什么事情。(播放视频)};
	\node[gleaf, wide, anchor=east] (b5i1) at (596,3816.5) {提问：录像上发生了什么事情?你看到了什么?\\(幼儿发言)};
	\node[gleaf, wide, anchor=east] (b5i2) at (596,3877.5) {小结：是啊!刚才录像中大楼在摇晃，地面发\\出了剧烈的声响，这就是地震。};
	\node[gleaf, wide, anchor=east] (b5j) at (839,3975.5) {2.地震对我们来说是一个很大的灾难，到底给\\我们带来了什么危害?让我们来看一看。小朋\\友，可以把你看到的和旁边的小伙伴说说。(\\教师走下去，听一听，问一问)再请个别幼儿\\起来说一说。};
	\node[gleaf, wide, anchor=east] (b5j1) at (596,3944.5) {小结：地震发生后，出现房屋倒塌、大桥断裂\\、山体滑坡，给我们的生命、生活带来了很大\\的危害。地震实在是太可怕了。};
	\node[gleaf, anchor=east] (b5j2) at (596,4005) {二、地震来了怎么办};
	\node[gleaf, anchor=east] (b5k) at (839,4052.5) {1.如果地震就发生在我们的身边，怎么办?};
	\node[gleaf, wide, anchor=east] (b5l) at (839,4119.5) {2.地面出现剧烈的震动，我们躲在哪里安全些\\?请个别幼儿说。教师出示图片，请幼儿判断\\谁做的对，教师用泡沫板演示形成的三角区，\\让幼儿明白什么地方安全。};
	\node[gleaf, wide, anchor=east] (b5m) at (839,4289.5) {3.如果在这个教室里发生地震，该怎么办?请\\小朋友找个地方躲起来，看看谁找的地方最安\\全，保持的姿势最正确。教师一边指导一边给\\做对的小朋友贴上一个小标志。小结幼儿躲的\\地方和姿势，并请幼儿说说教室外的安全\\情况。什么时候往外跑?逃跑时应该注意什么?\\(有秩序，沿墙角跑，保护头部。)可以用什么\\来护住我们的头?};
	\node[gleaf, wide, anchor=east] (b5m1) at (596,4215) {小朋友，听!是谁的声音?(放图片)他没有跑出\\去，被困在了里面，他用什么办法让别人知道\\被困在里面?什么时候喊?(有人时喊)为什么没\\人时不要喊?(保持体力)没有劲喊了怎么办?(哨\\子、敲击、寻找食物、想办法自救)};
	\node[gleaf, wide, anchor=east] (b5m2) at (596,4302.5) {小结：如果地震发生在我们身边，我们要先躲\\后跑，如果被困住好几天了，都没有人来救你\\，不要灰心，相信肯定会有人来救我们。};
	\node[gleaf, anchor=east] (b5m3) at (596,4364.5) {三、地震的预防};
	\node[gleaf, wide, anchor=east] (b5n) at (839,4466.5) {1.日本是一个多震的国家，他们的家里准备了\\一个地震急救箱，以备急用。里面有许多物品\\，你可以和小朋友商量应该选什么物品，用它\\来干什么?然后放到你们组的急救箱里。选好\\了吗?把你们组的急救箱送到老师这，然后回\\到座位上。让我们一起来看一看急救箱都有些\\什么?(提问：水和饼干我们需要它吗?手电筒\\能派上什么用场?收音机也能帮助到我们吗?小\\小的哨子有什么用?手套能有什么用处?)};
	\node[gleaf, wide, anchor=east] (b5n1) at (596,4466.5) {小结：有了急救箱里的这些东西，我们就可以\\利用它来帮我们渡过难关了。};
	\node[gleaf, wide, anchor=east] (b5o) at (839,4696) {2.地震很可怕，如果我们能提前知道地震何时\\发生该有多好?但现在我们还无法预测地震的\\发生。如果我们仔细观察，会发现在地震发生\\的前一两天或几个小时内经常会发生一些常的\\现象，让我们看一看。(请幼儿看课件)};
	\node[gleaf, wide, anchor=east] (b5o1) at (596,4574) {小结：这些现象都是通过仔细观察才能发现的\\，小朋友发现后可以告诉周围的人};
	\node[gleaf, anchor=east] (b5o2) at (596,4817.5) {四、地震演习};
	\node[gleaf, wide, anchor=east] (b5o2a) at (502,4642) {今天，小朋友知道了这么多关于地震的知识，\\让我们来进行一次地震演习，看看小朋友会不\\会保护自己。};
	\node[gleaf, anchor=east] (b5o2b) at (502,4702.5) {活动反思:};
	\node[gleaf, wide, anchor=east] (b5o2c) at (502,4763) {汶川大地震就像发生在昨天一样令我们记忆深\\刻。这让我们意识到对幼儿进行地震教育的重\\要性。};
	\node[gleaf, wide, anchor=east] (b5o2d) at (502,4830) {幼儿只有通过各种感官才能印象深刻地了解地\\震的有关常识，懂得自救的方法。};
	\node[gleaf, wide, anchor=east] (b5o2e) at (502,4911) {在本节课中，通过视频、图片的观看极大地调\\动了幼儿的经验讨论和演习活动幼儿能积极地\\参与，获得了真实的`体验，急救箱的小游戏\\又让幼儿懂得在生活当中应提前预备好急救物\\品，达到了很好的效果。};
	\node[gleaf, wide, anchor=east] (b5o2f) at (502,4992.5) {不足是在不同的场地，如何灵活自救，对于幼\\儿来说是一个难点，也是今后工作中的重点。};

	\draw[glink] (b5.west) -- ++(-10,0) |- (b5a.east);
	\draw[glink] (b5.west) -- ++(-10,0) |- (b5b.east);
	\draw[glink] (b5.west) -- ++(-10,0) |- (b5c.east);
	\draw[glink] (b5.west) -- ++(-10,0) |- (b5d.east);
	\draw[glink] (b5.west) -- ++(-10,0) |- (b5e.east);
	\draw[glink] (b5.west) -- ++(-10,0) |- (b5f.east);
	\draw[glink] (b5.west) -- ++(-10,0) |- (b5g.east);
	\draw[glink] (b5.west) -- ++(-10,0) |- (b5h.east);
	\draw[glink] (b5.west) -- ++(-10,0) |- (b5i.east);
	\draw[glink] (b5.west) -- ++(-10,0) |- (b5j.east);
	\draw[glink] (b5.west) -- ++(-10,0) |- (b5k.east);
	\draw[glink] (b5.west) -- ++(-10,0) |- (b5l.east);
	\draw[glink] (b5.west) -- ++(-10,0) |- (b5m.east);
	\draw[glink] (b5.west) -- ++(-10,0) |- (b5n.east);
	\draw[glink] (b5.west) -- ++(-10,0) |- (b5o.east);
	\draw[glink] (b5f.west) -- (b5f1.east);
	\draw[glink] (b5h.west) -- ++(-10,0) |- (b5h1.east);
	\draw[glink] (b5h.west) -- ++(-10,0) |- (b5h2.east);
	\draw[glink] (b5i.west) -- ++(-10,0) |- (b5i1.east);
	\draw[glink] (b5i.west) -- ++(-10,0) |- (b5i2.east);
	\draw[glink] (b5j.west) -- ++(-10,0) |- (b5j1.east);
	\draw[glink] (b5j.west) -- ++(-10,0) |- (b5j2.east);
	\draw[glink] (b5m.west) -- ++(-10,0) |- (b5m1.east);
	\draw[glink] (b5m.west) -- ++(-10,0) |- (b5m2.east);
	\draw[glink] (b5m.west) -- ++(-10,0) |- (b5m3.east);
	\draw[glink] (b5n.west) -- (b5n1.east);
	\draw[glink] (b5o.west) -- ++(-10,0) |- (b5o1.east);
	\draw[glink] (b5o.west) -- ++(-10,0) |- (b5o2.east);
	\draw[glink] (b5o2.west) -- ++(-10,0) |- (b5o2a.east);
	\draw[glink] (b5o2.west) -- ++(-10,0) |- (b5o2b.east);
	\draw[glink] (b5o2.west) -- ++(-10,0) |- (b5o2c.east);
	\draw[glink] (b5o2.west) -- ++(-10,0) |- (b5o2d.east);
	\draw[glink] (b5o2.west) -- ++(-10,0) |- (b5o2e.east);
	\draw[glink] (b5o2.west) -- ++(-10,0) |- (b5o2f.east);

	%% -- 相关文章
	\node[bleaf, anchor=west] (b6a) at (1722,4370.5) {★ 暑假防溺水安全教育活动总结2022范本};
	\node[bleaf, anchor=west] (b6b) at (1722,4417.5) {★ 2021防溺水主题班会记录内容};
	\node[bleaf, anchor=west] (b6c) at (1722,4464.5) {★ 2022幼儿园防溺水工作方案通用范文};
	\node[bleaf, anchor=west] (b6d) at (1722,4511.5) {★ 暑假2022年防溺水宣传主题活动总结范文};
	\node[bleaf, anchor=west] (b6e) at (1722,4558) {★ 2022开学第一节班会课教案5篇};
	\node[bleaf, anchor=west] (b6f) at (1722,4605.5) {★ 汛期安全主题班会活动教案};
	\node[bleaf, anchor=west] (b6g) at (1722,4659.5) {★ 2022年新学期新征程主题班会教案范例5\\篇};
	\node[bleaf, anchor=west] (b6h) at (1722,4714) {★ 学前教育专业学生实习自我鉴定5篇};
	\node[bleaf, anchor=west] (b6i) at (1722,4760) {★ 幼儿园中班安全开学第一课教案2021};
	\node[bleaf, anchor=west] (b6j) at (1722,4808) {★ 幼儿园教师工作计划5篇};

	\draw[blink] (b6.east) -- ++(10,0) |- (b6a.west);
	\draw[blink] (b6.east) -- ++(10,0) |- (b6b.west);
	\draw[blink] (b6.east) -- ++(10,0) |- (b6c.west);
	\draw[blink] (b6.east) -- ++(10,0) |- (b6d.west);
	\draw[blink] (b6.east) -- ++(10,0) |- (b6e.west);
	\draw[blink] (b6.east) -- ++(10,0) |- (b6f.west);
	\draw[blink] (b6.east) -- ++(10,0) |- (b6g.west);
	\draw[blink] (b6.east) -- ++(10,0) |- (b6h.west);
	\draw[blink] (b6.east) -- ++(10,0) |- (b6i.west);
	\draw[blink] (b6.east) -- ++(10,0) |- (b6j.west);

\end{tikzpicture}
\end{document}
